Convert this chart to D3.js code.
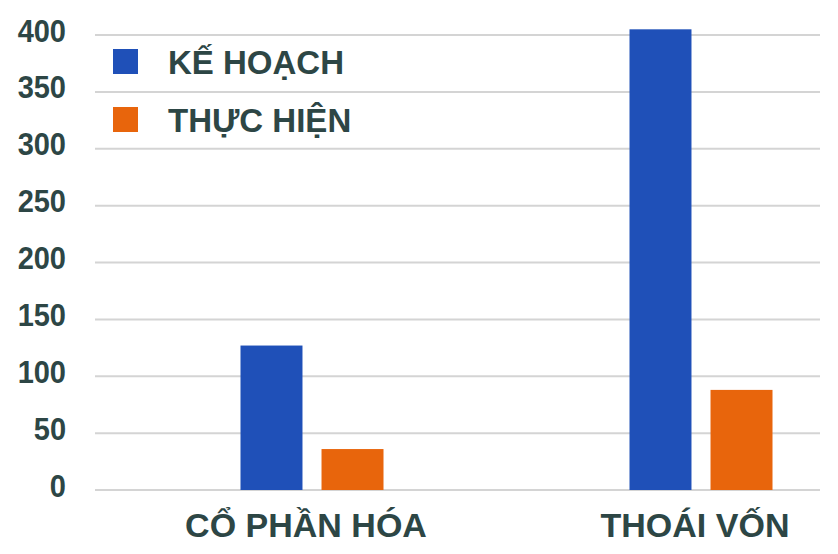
<!DOCTYPE html>
<html lang="vi">
<head>
    <meta charset="UTF-8"/>
    <title>Kế hoạch / Thực hiện</title>
    <script src="https://d3js.org/d3.v7.min.js" charset="utf-8"></script>
    <style type="text/css">
        body { margin: 0; background: #ffffff; }
        text {
            font-family: "Liberation Sans", Arial, sans-serif;
            font-weight: 700;
            fill: #2d4645;
        }
        .grid line { stroke: #d4d4d4; stroke-width: 2px; }
    </style>
</head>
<body>
<div id="chart"></div>
<script type="text/javascript">

    var categories = ["CỔ PHẦN HÓA", "THOÁI VỐN"];
    var series = ["KẾ HOẠCH", "THỰC HIỆN"];
    var keHoach = [127, 405];
    var thucHien = [36, 88];
    var yTicks = [0, 50, 100, 150, 200, 250, 300, 350, 400];
    var colors = ["#1f50b8", "#e8650c"];

    var width = 838, height = 554;

    var svg = d3.select("#chart")
        .append("svg")
        .attr("width", width)
        .attr("height", height);

    var y = d3.scaleLinear().domain([0, 400]).range([490, 35]);

    // group centres are not symmetric in the picture, so use a point scale
    var x = d3.scalePoint().domain(categories).range([312, 701]);
    var xInner = d3.scaleBand().domain(series).range([-71.5, 71.5]).paddingInner(0.235);

    // grid lines
    svg.append("g")
        .attr("class", "grid")
        .selectAll("line")
        .data(yTicks)
        .enter()
        .append("line")
        .attr("x1", 95)
        .attr("x2", 820)
        .attr("y1", function (d) { return y(d); })
        .attr("y2", function (d) { return y(d); });

    // y labels (a bit taller than wide in the picture)
    svg.append("g")
        .selectAll("text")
        .data(yTicks)
        .enter()
        .append("text")
        .attr("transform", function (d) { return "translate(66," + (y(d) - 5) + ") scale(1,1.1)"; })
        .attr("text-anchor", "end")
        .attr("dominant-baseline", "central")
        .attr("font-size", "29px")
        .text(function (d) { return d; });

    var rows = categories.map(function (c, i) {
        return { cat: c, values: [keHoach[i], thucHien[i]] };
    });

    var groups = svg.selectAll("g.bars")
        .data(rows)
        .enter()
        .append("g")
        .attr("class", "bars")
        .attr("transform", function (d) { return "translate(" + x(d.cat) + ",0)"; });

    groups.selectAll("rect")
        .data(function (d) { return d.values.map(function (v, j) { return { s: series[j], v: v, j: j }; }); })
        .enter()
        .append("rect")
        .attr("x", function (d) { return xInner(d.s); })
        .attr("y", function (d) { return y(d.v); })
        .attr("width", xInner.bandwidth())
        .attr("height", function (d) { return y(0) - y(d.v); })
        .style("fill", function (d) { return colors[d.j]; });

    // x labels
    svg.append("g")
        .selectAll("text")
        .data(categories)
        .enter()
        .append("text")
        .attr("x", function (d) { return x(d) - 6; })
        .attr("y", 537)
        .attr("text-anchor", "middle")
        .attr("font-size", "34px")
        .text(function (d) { return d; });

    // legend
    var legend = svg.append("g")
        .selectAll("g")
        .data(series)
        .enter()
        .append("g")
        .attr("transform", function (d, i) { return "translate(113," + (49 + i * 58) + ")"; });

    legend.append("rect")
        .attr("width", 25)
        .attr("height", 25)
        .style("fill", function (d, i) { return colors[i]; });

    legend.append("text")
        .attr("x", 55)
        .attr("y", 25)
        .attr("font-size", "33px")
        .text(function (d) { return d; });

</script>
</body>
</html>
